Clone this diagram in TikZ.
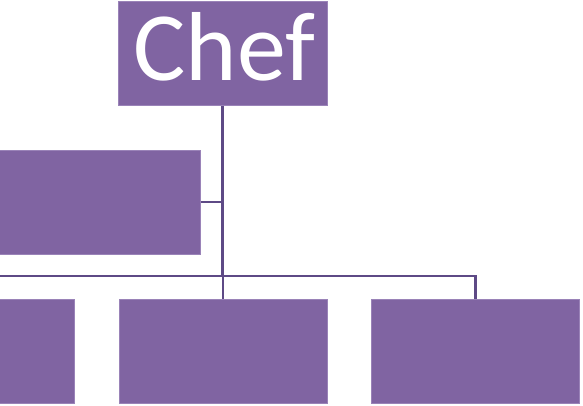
\documentclass[tikz,border=0pt]{standalone}
\usepackage{fontspec}
\setmainfont{Carlito}
\definecolor{boxfill}{HTML}{8064A2}
\definecolor{boxedge}{HTML}{9A83B8}
\definecolor{linecol}{HTML}{5E4A86}
\begin{document}
\begin{tikzpicture}[x=1pt,y=-1pt,
  orgbox/.style={fill=boxfill,draw=boxedge,line width=0.6pt},
  conn/.style={draw=linecol,line width=2.4pt}]
\useasboundingbox (0,0) rectangle (583,405);
\fill[white] (0,0) rectangle (583,405);
% boxes
\draw[orgbox] (118.5,1.5) rectangle (327.5,105.5);
\node[text=white,font=\fontsize{98}{98}\selectfont,inner sep=0pt,anchor=base] (chef) at (224.5,80) {Chef};
\coordinate (chefb) at (223,105.5);
\draw[orgbox] (-2,150.5) rectangle (200.5,254);
\coordinate (asst) at (200.5,202);
\draw[orgbox] (-2,299) rectangle (74,403);
\draw[orgbox] (119,299) rectangle (327.5,403);
\coordinate (b2) at (223,299);
\draw[orgbox] (371,299) rectangle (579.5,403);
\coordinate (b3) at (475.5,299);
% connectors
\coordinate (junc) at (222.5,276);
\coordinate (lend) at (0,276);
\coordinate (asstj) at (222.5,202);
\draw[conn] (chefb -| junc) -- (junc);
\draw[conn] (asst) -- (asstj);
\draw[conn] (lend) -- (junc) -- (b2 |- junc) -- (b2);
\draw[conn] (junc) -- (b3 |- junc) -- (b3);
\end{tikzpicture}
\end{document}
